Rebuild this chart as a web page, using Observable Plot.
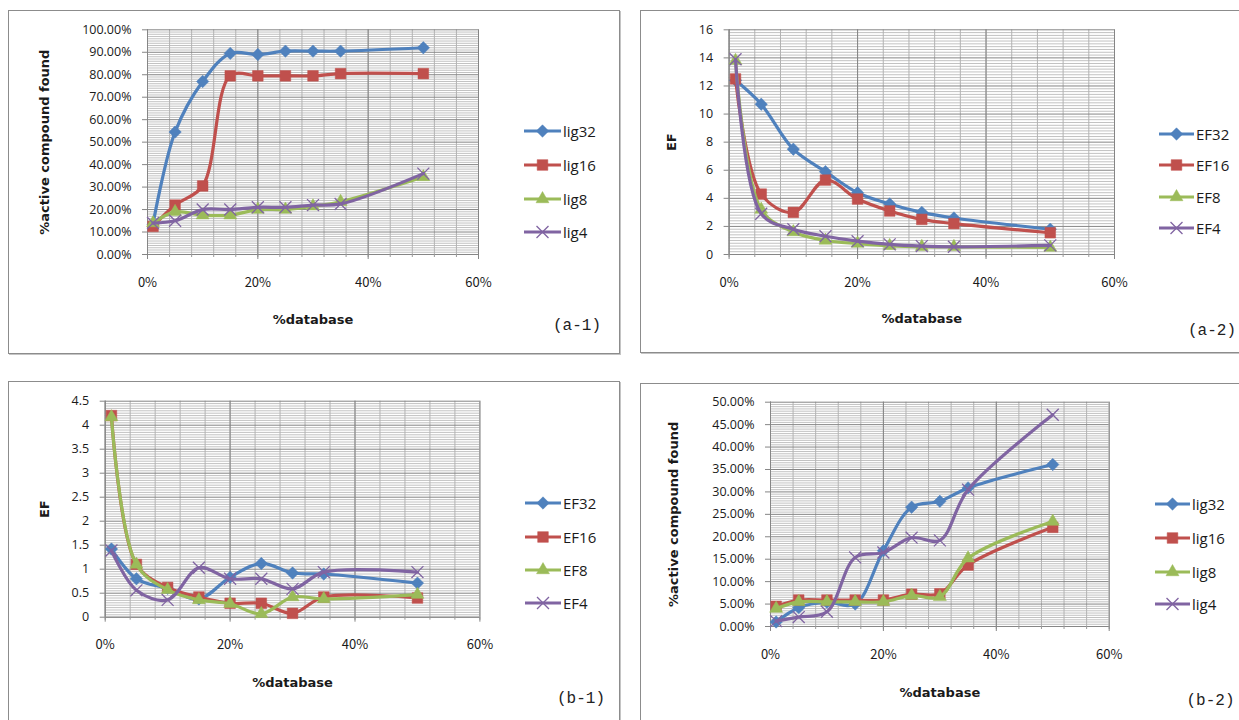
<!DOCTYPE html>
<html>
<head>
<meta charset="utf-8">
<script src="https://cdn.jsdelivr.net/npm/d3@7"></script>
<script src="https://cdn.jsdelivr.net/npm/@observablehq/plot@0.6"></script>
<style>
  html, body { margin: 0; padding: 0; background: #fff; }
  #chart { position: relative; width: 1239px; height: 720px; overflow: hidden; background: #fff; }
  .panel { position: absolute; box-sizing: border-box; border: 1px solid #8c8c8c; box-shadow: 1px 1px 0 #c4c4c4; background: #fff; }
  .plotbox { position: absolute; }
  .plotbox svg { overflow: visible; max-width: none !important; display: block; }
  .leg { position: absolute; display: flex; align-items: center; font-family: "Open Sans", sans-serif; font-size: 15px; color: #1a1a1a; white-space: nowrap; }
  .leg svg { display: block; margin-right: 2px; overflow: visible; }
  .tag { position: absolute; font-family: "Liberation Mono", monospace; font-size: 16px; color: #222; white-space: nowrap; }
</style>
</head>
<body>
<div id="chart"></div>
<script>
// ---------- data ----------
const xDatabase = [1, 5, 10, 15, 20, 25, 30, 35, 50];     // % database
const xMajorTicks = [0, 20, 40, 60];

// (a-1) %active compound found
const a1Lig32 = [13.5, 54.5, 77, 89.5, 89, 90.5, 90.5, 90.5, 92];
const a1Lig16 = [12.5, 22, 30.5, 79.5, 79.5, 79.5, 79.5, 80.5, 80.5];
const a1Lig8  = [14, 19, 17.5, 17.5, 20, 20, 21.5, 23.5, 34.5];
const a1Lig4  = [14, 15, 20, 20, 21, 21, 22, 22.5, 36];
const a1YTicks = [0, 10, 20, 30, 40, 50, 60, 70, 80, 90, 100];

// (a-2) EF
const a2EF32 = [12.4, 10.7, 7.5, 5.9, 4.4, 3.6, 3.0, 2.6, 1.8];
const a2EF16 = [12.5, 4.3, 3.0, 5.3, 3.95, 3.1, 2.5, 2.2, 1.55];
const a2EF8  = [13.8, 3.2, 1.6, 1.0, 0.78, 0.62, 0.55, 0.55, 0.5];
const a2EF4  = [13.9, 2.9, 1.8, 1.3, 0.95, 0.72, 0.6, 0.55, 0.65];
const a2YTicks = [0, 2, 4, 6, 8, 10, 12, 14, 16];

// (b-1) EF
const b1EF32 = [1.42, 0.8, 0.6, 0.38, 0.83, 1.12, 0.92, 0.9, 0.71];
const b1EF16 = [4.2, 1.1, 0.62, 0.42, 0.29, 0.29, 0.08, 0.42, 0.4];
const b1EF8  = [4.17, 1.1, 0.57, 0.36, 0.28, 0.07, 0.42, 0.38, 0.47];
const b1EF4  = [1.39, 0.56, 0.36, 1.03, 0.8, 0.8, 0.59, 0.94, 0.94];
const b1YTicks = [0, 0.5, 1, 1.5, 2, 2.5, 3, 3.5, 4, 4.5];

// (b-2) %active compound found
const b2Lig32 = [1.0, 4.2, 5.4, 5.0, 16.9, 26.6, 27.9, 30.9, 36.1];
const b2Lig16 = [4.5, 5.9, 5.9, 5.9, 5.9, 7.2, 7.3, 13.7, 22.1];
const b2Lig8  = [4.0, 5.5, 5.5, 5.5, 5.5, 6.9, 6.6, 15.2, 23.4];
const b2Lig4  = [1.2, 2.1, 3.3, 15.4, 16.5, 19.8, 19.2, 30.5, 47.2];
const b2YTicks = [0, 5, 10, 15, 20, 25, 30, 35, 40, 45, 50];

const seriesColors = ["#4F81BD", "#C0504D", "#9BBB59", "#8064A2"];
const seriesSymbols = ["diamond2", "square", "triangle", "times"];
const seriesR = [5.6, 6, 4.8, 5.5];

// ---------- helpers ----------
const root = document.getElementById("chart");
const symbolMap = {diamond2: d3.symbolDiamond2, square: d3.symbolSquare, triangle: d3.symbolTriangle, times: d3.symbolTimes};

function minorTicks(ticks, per) {
  const out = [];
  for (let i = 0; i < ticks.length - 1; i++) {
    const step = (ticks[i + 1] - ticks[i]) / per;
    for (let k = 1; k < per; k++) out.push(ticks[i] + k * step);
  }
  return out;
}
function xMinor() { return d3.range(0, 61, 4); }

function panel(cfg) {
  const box = document.createElement("div");
  box.className = "panel";
  Object.assign(box.style, {left: cfg.box[0] + "px", top: cfg.box[1] + "px", width: cfg.box[2] + "px", height: cfg.box[3] + "px"});
  root.appendChild(box);

  const [fx0, fy0, fx1, fy1] = cfg.frame; // page coords of plot area
  const W = cfg.box[2], H = cfg.box[3];
  const ox = cfg.box[0], oy = cfg.box[1];

  const yMin = cfg.yTicks[0], yMax = cfg.yTicks[cfg.yTicks.length - 1];
  const marks = [
    Plot.gridY(minorTicks(cfg.yTicks, cfg.yMinorPer), {stroke: "#c2c2c2", strokeOpacity: 1}),
    Plot.gridX(xMinor(), {stroke: "#b3b3b3", strokeOpacity: 1}),
    Plot.gridY(cfg.yTicks, {stroke: "#858585", strokeOpacity: 1}),
    Plot.gridX(xMajorTicks, {stroke: "#858585", strokeOpacity: 1}),
    Plot.ruleX([0], {stroke: "#868686"}),
    Plot.ruleY([yMin], {stroke: "#868686"}),
    Plot.axisY(cfg.yTicks, {tickSize: 5, tickPadding: 11, tickFormat: cfg.yFormat, label: null,
      stroke: "#868686", fill: "#1a1a1a", fontSize: 12.5, fontFamily: "Open Sans"}),
    Plot.axisX(xMinor(), {tickSize: 3, tickFormat: () => "", label: null, stroke: "#9a9a9a"}),
    Plot.axisX(xMajorTicks, {tickSize: 5, tickPadding: 18, tickFormat: d => d + "%", label: null,
      stroke: "#868686", fill: "#1a1a1a", fontSize: 13, fontFamily: "Noto Sans CJK SC"}),
    Plot.text([cfg.yTitle], {frameAnchor: "left", textAnchor: "middle", lineAnchor: "middle",
      dx: -(fx0 - cfg.yTitleX), rotate: -90,
      fontWeight: "bold", fontSize: 13, fontFamily: "DejaVu Sans", fill: "#1a1a1a"}),
    Plot.text(["%database"], {frameAnchor: "bottom", textAnchor: "middle", lineAnchor: "middle",
      dy: cfg.xTitleY - fy1,
      fontWeight: "bold", fontSize: 13, fontFamily: "DejaVu Sans", fill: "#1a1a1a"})
  ];

  cfg.series.forEach((s, i) => {
    const rows = s.values.map((v, j) => ({x: xDatabase[j], y: v}));
    marks.push(Plot.line(rows, {x: "x", y: "y", stroke: seriesColors[i], strokeWidth: 3.2, curve: "catmull-rom"}));
    const sym = seriesSymbols[i];
    if (sym === "times") {
      marks.push(Plot.dot(rows, {x: "x", y: "y", symbol: sym, r: seriesR[i], stroke: seriesColors[i], strokeWidth: 1.3}));
    } else {
      marks.push(Plot.dot(rows, {x: "x", y: "y", symbol: sym, r: seriesR[i], fill: seriesColors[i], stroke: seriesColors[i], strokeWidth: 0.5}));
    }
  });

  const chart = Plot.plot({
    width: W, height: H,
    marginLeft: fx0 - ox, marginRight: W - (fx1 - ox),
    marginTop: fy0 - oy, marginBottom: H - (fy1 - oy),
    x: {domain: [0, 60]},
    y: {domain: [yMin, yMax]},
    style: {fontFamily: "Open Sans", fontSize: "12px", background: "transparent", color: "#1a1a1a"},
    marks
  });
  chart.style.width = W + "px";
  chart.style.height = H + "px";
  chart.style.maxWidth = "none";
  const holder = document.createElement("div");
  holder.className = "plotbox";
  holder.style.left = ox + "px";
  holder.style.top = oy + "px";
  holder.style.width = W + "px";
  holder.style.height = H + "px";
  holder.appendChild(chart);
  root.appendChild(holder);

  cfg.series.forEach((s, i) => {
    const item = document.createElement("div");
    item.className = "leg";
    item.style.left = cfg.legend.x + "px";
    item.style.top = (cfg.legend.ys[i] - 10) + "px";
    item.style.height = "20px";
    const lw = cfg.legend.w;
    const svg = d3.create("svg").attr("width", lw).attr("height", 20);
    svg.append("line").attr("x1", 0).attr("x2", lw).attr("y1", 10).attr("y2", 10)
      .attr("stroke", seriesColors[i]).attr("stroke-width", 3);
    const sym = seriesSymbols[i];
    const size = Math.PI * seriesR[i] * seriesR[i];
    const p = svg.append("path").attr("transform", `translate(${lw / 2},10)`)
      .attr("d", d3.symbol(symbolMap[sym], size)());
    if (sym === "times") p.attr("fill", "none").attr("stroke", seriesColors[i]).attr("stroke-width", 1.3);
    else p.attr("fill", seriesColors[i]).attr("stroke", seriesColors[i]).attr("stroke-width", 0.5);
    item.appendChild(svg.node());
    const t = document.createElement("span");
    t.textContent = s.name;
    item.appendChild(t);
    root.appendChild(item);
  });

  const tag = document.createElement("div");
  tag.className = "tag";
  tag.textContent = cfg.tag;
  tag.style.left = cfg.tagPos[0] + "px";
  tag.style.top = (cfg.tagPos[1] - 10) + "px";
  root.appendChild(tag);
}

const pctFmt = d => d.toFixed(2) + "%";

panel({
  box: [8, 10, 612, 344],
  frame: [147, 29.3, 478, 254],
  yTicks: a1YTicks, yMinorPer: 10, yFormat: pctFmt,
  yTitle: "%active compound found", yTitleX: 44, xTitleY: 319,
  series: [{name: "lig32", values: a1Lig32}, {name: "lig16", values: a1Lig16}, {name: "lig8", values: a1Lig8}, {name: "lig4", values: a1Lig4}],
  legend: {x: 524, w: 37, ys: [131, 165, 199, 232]},
  tag: "(a-1)", tagPos: [553, 327]
});

panel({
  box: [640, 10, 620, 343],
  frame: [728.6, 29.3, 1114, 254],
  yTicks: a2YTicks, yMinorPer: 10, yFormat: d => String(d),
  yTitle: "EF", yTitleX: 671, xTitleY: 318,
  series: [{name: "EF32", values: a2EF32}, {name: "EF16", values: a2EF16}, {name: "EF8", values: a2EF8}, {name: "EF4", values: a2EF4}],
  legend: {x: 1159, w: 35, ys: [134, 165, 197, 228]},
  tag: "(a-2)", tagPos: [1188, 332]
});

panel({
  box: [8, 381, 612, 360],
  frame: [104.7, 400.7, 479.4, 616.7],
  yTicks: b1YTicks, yMinorPer: 10, yFormat: d => String(d),
  yTitle: "EF", yTitleX: 44, xTitleY: 682,
  series: [{name: "EF32", values: b1EF32}, {name: "EF16", values: b1EF16}, {name: "EF8", values: b1EF8}, {name: "EF4", values: b1EF4}],
  legend: {x: 525, w: 36, ys: [503, 537, 570, 603]},
  tag: "(b-1)", tagPos: [557, 700]
});

panel({
  box: [640, 383, 620, 360],
  frame: [770, 401.7, 1108.7, 626],
  yTicks: b2YTicks, yMinorPer: 10, yFormat: pctFmt,
  yTitle: "%active compound found", yTitleX: 673, xTitleY: 692,
  series: [{name: "lig32", values: b2Lig32}, {name: "lig16", values: b2Lig16}, {name: "lig8", values: b2Lig8}, {name: "lig4", values: b2Lig4}],
  legend: {x: 1155, w: 35, ys: [504, 538, 572, 604]},
  tag: "(b-2)", tagPos: [1186.5, 702]
});
</script>
</body>
</html>
